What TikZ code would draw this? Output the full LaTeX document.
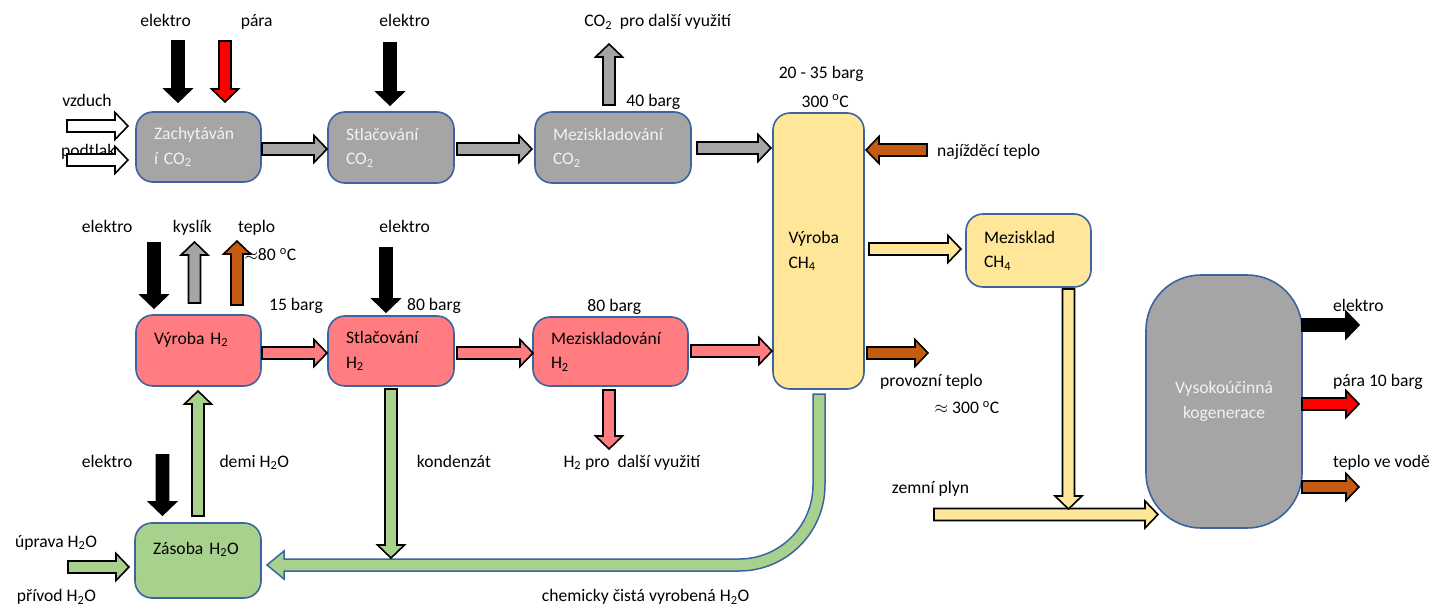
\documentclass[tikz,border=0pt]{standalone}
\usepackage{fontspec}
\setmainfont{Carlito}
\usetikzlibrary{calc}
\definecolor{bord}{HTML}{3B64A0}
\definecolor{gbox}{HTML}{A5A5A5}
\definecolor{pbox}{HTML}{FF7C80}
\definecolor{ybox}{HTML}{FFE699}
\definecolor{grn}{HTML}{A9D18E}
\definecolor{brn}{HTML}{C55A11}
\definecolor{lt}{HTML}{F2F2F2}
\newcommand\lblfont{\fontsize{17.6}{24.5}\selectfont}
\tikzset{
  shaftw/.store in=\bsw, headw/.store in=\bhw, headl/.store in=\bhl,
  shaftw=6pt, headw=13.5pt, headl=13pt,
  barrowline/.style={draw=black, line width=1.6pt, line join=miter},
  box/.style={draw=bord, line width=1.6pt, rounded corners=17pt, inner ysep=0pt,
    inner xsep=18pt, align=left, font=\lblfont},
  lbl/.style={font=\lblfont, inner sep=0pt, text height=12pt, text depth=0pt},
}
\newcommand\barrow[3][]{%
  \begin{scope}[#1]
  \coordinate (bah) at ($(#3)!\bhl!(#2)$);
  \draw[barrowline,#1] ($(#2)!\bsw!90:(#3)$) -- ($(bah)!\bsw!90:(#3)$) -- ($(bah)!\bhw!90:(#3)$)
    -- (#3) -- ($(bah)!\bhw!-90:(#3)$) -- ($(bah)!\bsw!-90:(#3)$) -- ($(#2)!\bsw!-90:(#3)$) -- cycle;
  \end{scope}}
\begin{document}
\begin{tikzpicture}[x=1pt,y=-1pt]
\useasboundingbox[fill=white] (0,0) rectangle (1436,605);

% boxes
\node[box, fill=gbox, text=lt, minimum width=125pt, minimum height=70pt, text width=89pt] (zach) at (198.5,147) {Zachytáván\\í CO\textsubscript{2}};
\node[box, fill=gbox, text=lt, minimum width=126pt, minimum height=71pt, text width=90pt] (stlc) at (391,147.5) {Stlačování\\CO\textsubscript{2}};
\node[box, fill=gbox, text=lt, minimum width=156pt, minimum height=71pt, text width=120pt] (mezc) at (613,147.5) {Meziskladování\\CO\textsubscript{2}};
\node[box, fill=ybox, inner xsep=15.5pt, minimum width=91pt, minimum height=276pt, text width=60pt] (vch4) at (818.5,251) {Výroba\\CH\textsubscript{4}};
\node[box, fill=ybox, minimum width=125pt, minimum height=73pt, text width=89pt] (mzch) at (1028.5,250.5) {Mezisklad\\CH\textsubscript{4}};
\node[box, fill=gbox, text=lt, rounded corners=55pt, align=center, minimum width=156pt, minimum height=253pt, text width=120pt] (koge) at (1224,401.5) {Vysokoúčinná\\kogenerace};
\node[box, fill=pbox, minimum width=125pt, minimum height=71pt, text width=89pt] (vh2) at (198.5,350.5) {Výroba H\textsubscript{2}\\\mbox{}};
\node[box, fill=pbox, minimum width=126pt, minimum height=70pt, text width=90pt] (sh2) at (391,351) {Stlačování\\H\textsubscript{2}};
\node[box, fill=pbox, minimum width=155pt, minimum height=69pt, text width=119pt] (mh2) at (610.5,351.5) {Meziskladování\\H\textsubscript{2}};
\node[box, fill=grn, minimum width=126pt, minimum height=75pt, text width=90pt] (zas) at (198,560.5) {Zásoba H\textsubscript{2}O\\\mbox{}};

% labels
\node[lbl] (l1) at (165.5,20.7) {elektro};
\node[lbl] (l2) at (256.7,20.7) {pára};
\node[lbl] (l3) at (404.7,20.7) {elektro};
\node[lbl] (l4) at (87,100.7) {vzduch};
\node[lbl] (l5) at (88.3,150) {podtlak};
\node[lbl] (l6) at (657.7,20.7) {CO\textsubscript{2}\ \ pro další využití};
\node[lbl] (l7) at (653.3,100.7) {40 barg};
\node[lbl] (l8) at (821.2,72.3) {20 - 35 barg};
\node[lbl] (l9) at (825.3,101) {300 \textsuperscript{o}C};
\node[lbl, anchor=west] (l10) at (937,150) {najížděcí teplo};
\node[lbl] (l11) at (107.2,226) {elektro};
\node[lbl] (l12) at (192.3,226) {kyslík};
\node[lbl] (l13) at (256.7,226) {teplo};
\node[lbl, anchor=west] (l14) at (244.3,254.3) {$\approx$80 \textsuperscript{o}C};
\node[lbl] (l15) at (296,304.3) {15 barg};
\node[lbl] (l16) at (404.7,226) {elektro};
\node[lbl] (l17) at (434,304.3) {80 barg};
\node[lbl] (l18) at (614.3,305) {80 barg};
\node[lbl, anchor=west] (l19) at (880,380) {provozní teplo};
\node[lbl] (l20) at (967,407.5) {$\approx$ 300 \textsuperscript{o}C};
\node[lbl] (l21) at (930.5,487.5) {zemní plyn};
\node[lbl, anchor=west] (l22) at (1333,305) {elektro};
\node[lbl, anchor=west] (l23) at (1333,380) {pára 10 barg};
\node[lbl, anchor=west] (l24) at (1333,461.7) {teplo ve vodě};
\node[lbl] (l25) at (107.2,461) {elektro};
\node[lbl, anchor=west] (l26) at (219.3,461) {demi H\textsubscript{2}O};
\node[lbl, anchor=west] (l27) at (416.7,461) {kondenzát};
\node[lbl, anchor=west] (l28) at (563.3,461) {H\textsubscript{2} pro\ \ další využití};
\node[lbl, anchor=west] (l29) at (15,541) {úprava H\textsubscript{2}O};
\node[lbl, anchor=west] (l30) at (16.7,595.7) {přívod H\textsubscript{2}O};
\node[lbl] (l31) at (645.5,595.7) {chemicky čistá vyrobená H\textsubscript{2}O};

% arrow end points
\coordinate (a1s) at (178,41);    \coordinate (a1t) at (178,102);
\coordinate (a2s) at (225,41);    \coordinate (a2t) at (225,102);
\coordinate (a3s) at (67,126);    \coordinate (a3t) at (128,126);
\coordinate (a4s) at (67,160);    \coordinate (a4t) at (128,160);
\coordinate (a5s) at (262,149);   \coordinate (a5t) at (327,149);
\coordinate (a6s) at (390,43);    \coordinate (a6t) at (390,105);
\coordinate (a7s) at (457,149);   \coordinate (a7t) at (532,149);
\coordinate (a8s) at (609,105);   \coordinate (a8t) at (609,44);
\coordinate (a9s) at (697,148);   \coordinate (a9t) at (771,148);
\coordinate (a10s) at (927,150);  \coordinate (a10t) at (866,150);
\coordinate (a11s) at (869,249);  \coordinate (a11t) at (961,249);
\coordinate (a12s) at (154,243);  \coordinate (a12t) at (154,308);
\coordinate (a13s) at (194.5,303);\coordinate (a13t) at (194.5,242);
\coordinate (a14s) at (237,305);  \coordinate (a14t) at (237,241);
\coordinate (a15s) at (386,248);  \coordinate (a15t) at (386,312);
\coordinate (a16s) at (262,353);  \coordinate (a16t) at (327,353);
\coordinate (a17s) at (457,353);  \coordinate (a17t) at (533,353);
\coordinate (a18s) at (691,351);  \coordinate (a18t) at (772,351);
\coordinate (a19s) at (867,353);  \coordinate (a19t) at (928,353);
\coordinate (a20s) at (1068.5,289); \coordinate (a20t) at (1068.5,509);
\coordinate (a21s) at (934,514.5);  \coordinate (a21t) at (1158,514.5);
\coordinate (a22s) at (1302,325); \coordinate (a22t) at (1359,325);
\coordinate (a23s) at (1302,404); \coordinate (a23t) at (1359,404);
\coordinate (a24s) at (1302,487); \coordinate (a24t) at (1359,487);
\coordinate (a25s) at (609,390);  \coordinate (a25t) at (609,449);
\coordinate (a26s) at (391,389);  \coordinate (a26t) at (391,558);
\coordinate (a27s) at (162.5,455);\coordinate (a27t) at (162.5,515);
\coordinate (a28s) at (198,516);  \coordinate (a28t) at (198,391);
\coordinate (a29s) at (68,567);   \coordinate (a29t) at (129,567);

% return pipe (chemicky čistá vyrobená H2O)
\draw[fill=grn, draw=bord, line width=1.5pt, line join=miter]
  (813,394) -- (825,394) -- (825,485) .. controls (825,532.5) and (786.5,571) .. (739,571)
  -- (284,571) -- (284,579) -- (267,565) -- (284,551) -- (284,559) -- (739,559)
  .. controls (779.9,559) and (813,525.9) .. (813,485) -- cycle;

% block arrows
\barrow[fill=black]{a1s}{a1t}
\barrow[fill=red]{a2s}{a2t}
\barrow[fill=white]{a3s}{a3t}
\barrow[fill=white]{a4s}{a4t}
\barrow[fill=gbox]{a5s}{a5t}
\barrow[fill=black]{a6s}{a6t}
\barrow[fill=gbox]{a7s}{a7t}
\barrow[fill=gbox]{a8s}{a8t}
\barrow[fill=gbox]{a9s}{a9t}
\barrow[fill=brn]{a10s}{a10t}
\barrow[fill=ybox]{a11s}{a11t}
\barrow[fill=black]{a12s}{a12t}
\barrow[fill=gbox]{a13s}{a13t}
\barrow[fill=brn]{a14s}{a14t}
\barrow[fill=black]{a15s}{a15t}
\barrow[fill=pbox]{a16s}{a16t}
\barrow[fill=pbox]{a17s}{a17t}
\barrow[fill=pbox]{a18s}{a18t}
\barrow[fill=brn]{a19s}{a19t}
\barrow[fill=ybox]{a21s}{a21t}
\barrow[fill=ybox]{a20s}{a20t}
\barrow[fill=black]{a22s}{a22t}
\barrow[fill=red]{a23s}{a23t}
\barrow[fill=brn]{a24s}{a24t}
\barrow[fill=pbox]{a25s}{a25t}
\barrow[fill=grn]{a26s}{a26t}
\barrow[fill=black]{a27s}{a27t}
\barrow[fill=grn]{a28s}{a28t}
\barrow[fill=grn]{a29s}{a29t}
\end{tikzpicture}
\end{document}
